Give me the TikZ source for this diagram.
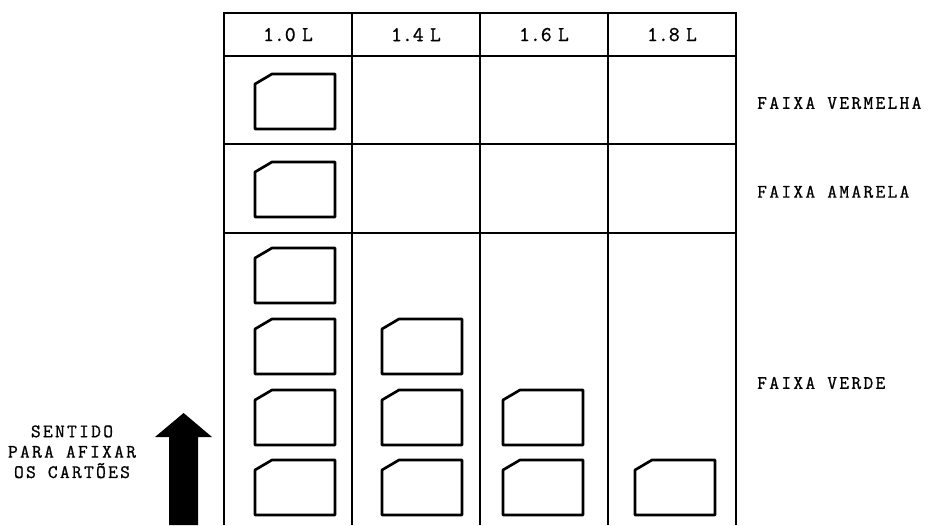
\documentclass[tikz,border=0pt]{standalone}
\usepackage{fontspec}
\newfontfamily\rotulo{Latin Modern Mono}[LetterSpace=12, FakeBold=1]
\newfontfamily\litro{Latin Modern Mono}[FakeBold=1]

% one card, lower left corner at (#1,#2), top left corner cut off
\newcommand{\cartao}[2]{%
  \draw[cardline] (#1,#2) -- ++(2.0,0) -- ++(0,1.375) -- ++(-1.575,0)
    -- ++(-0.425,-0.25) -- cycle;}

\begin{document}
\begin{tikzpicture}[
  font=\rotulo\fontsize{13.5}{16.5}\selectfont,
  grid/.style={black, line width=0.9pt},
  cardline/.style={black, line width=1.9pt, line join=round},
  litros/.style={font=\litro\fontsize{15}{18}\selectfont},
  faixa/.style={anchor=west, inner sep=0pt}]

\useasboundingbox (0,0) rectangle (23.2,13.125);

% ===== Table: header row, red, yellow and (open) green row =====
\draw[grid] (5.6,0) -- (5.6,12.8) -- (18.4,12.8) -- (18.4,0);
\foreach \x in {8.8,12.0,15.2}
  \draw[grid] (\x,0) -- (\x,12.8);
\foreach \y in {11.725,9.525,7.3}
  \draw[grid] (5.6,\y) -- (18.4,\y);

% Header
\node[litros] (h10) at (7.2,12.26)  {1.0\hspace{0.3em}L};
\node[litros] (h14) at (10.4,12.26) {1.4\hspace{0.3em}L};
\node[litros] (h16) at (13.6,12.26) {1.6\hspace{0.3em}L};
\node[litros] (h18) at (16.8,12.26) {1.8\hspace{0.3em}L};

% ----- Cards -----
% Red and yellow rows: only 1.0 L
\cartao{6.375}{9.9}
\cartao{6.375}{7.7}
% Green row: 4, 3, 2 and 1 cards from the bottom
\foreach \y in {0.25,2.0,3.775,5.55} {\cartao{6.375}{\y}}
\foreach \y in {0.25,2.0,3.775}      {\cartao{9.55}{\y}}
\foreach \y in {0.25,2.0}            {\cartao{12.575}{\y}}
\cartao{15.875}{0.25}

% Row labels
\node[faixa] (vermelha) at (18.925,10.55) {FAIXA VERMELHA};
\node[faixa] (amarela)  at (18.925,8.33)  {FAIXA AMARELA};
\node[faixa] (verde)    at (18.925,3.55)  {FAIXA VERDE};

% ===== Direction for placing the cards =====
\node[align=center, inner sep=0pt] (sentido) at (1.8,1.83)
  {SENTIDO\\[-2pt] PARA AFIXAR\\[-2pt] OS CARTÕES};
\fill[black] (4.225,0) -- (4.225,2.2) -- (3.875,2.2) -- (4.59,2.8)
  -- (5.3,2.2) -- (4.95,2.2) -- (4.95,0) -- cycle;

\end{tikzpicture}
\end{document}
